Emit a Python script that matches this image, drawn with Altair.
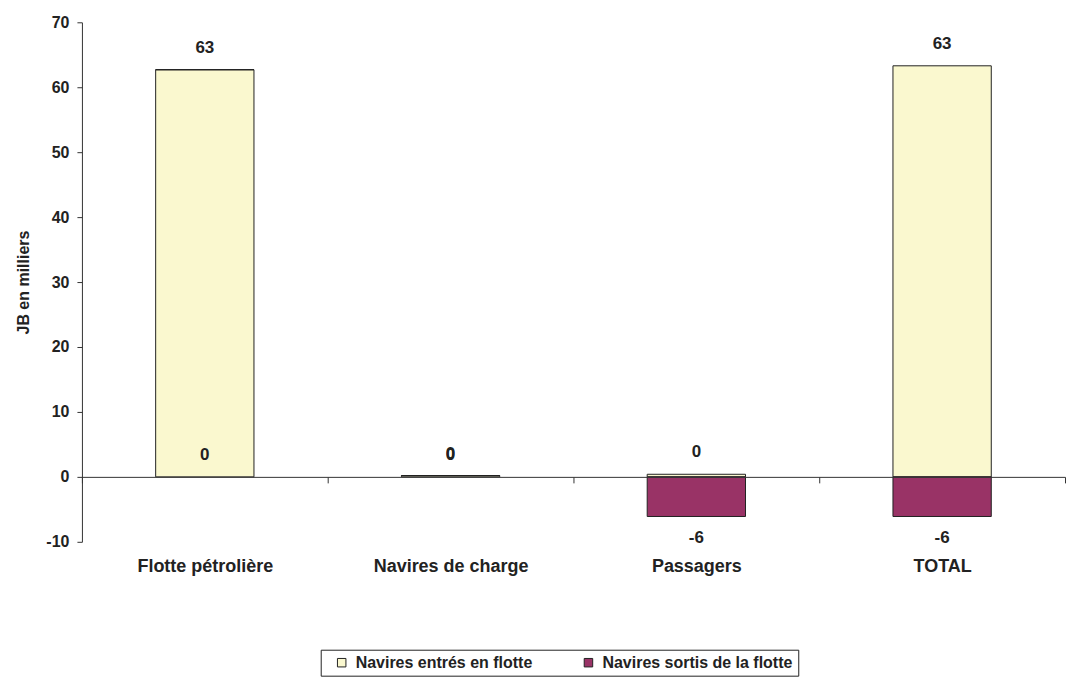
import altair as alt
import pandas as pd

categories = ["Flotte pétrolière", "Navires de charge", "Passagers", "TOTAL"]
series = ["Navires entrés en flotte", "Navires sortis de la flotte"]
entered = [62.7, 0.2, 0.4, 63.3]
exited = [0.0, 0.0, -6.1, -6.1]
colors = ["#FAF8CF", "#993366"]
y_ticks = [-10, 0, 10, 20, 30, 40, 50, 60, 70]

rows = []
for i, c in enumerate(categories):
    for k, (s, vals) in enumerate(zip(series, [entered, exited])):
        v = vals[i]
        rows.append({"cat": c, "series": s, "value": v,
                     "label": str(int(round(v))), "order": k})
df = pd.DataFrame(rows)

FONT = "Liberation Sans"
W, H = 984, 520
zero_offset = -H * (0 - (-10)) / (70 - (-10))

x_enc = alt.X(
    "cat:N", sort=categories,
    scale=alt.Scale(paddingInner=0, paddingOuter=0),
    axis=alt.Axis(title=None, labelAngle=0, offset=zero_offset, zindex=1,
                  domainColor="#333", tickColor="#333", tickSize=6,
                  tickBand="extent", labelPadding=75, labelFontSize=18,
                  labelFontWeight="bold", labelFont=FONT, labelColor="#222"),
)
y_scale = alt.Scale(domain=[-10, 70], nice=False, zero=False)
y_axis = alt.Axis(values=y_ticks, title="JB en milliers", grid=False,
                  labelExpr="'' + datum.value",
                  domainColor="#333", tickColor="#333", tickSize=5,
                  labelPadding=8, labelFontSize=16, labelFontWeight="bold",
                  labelFont=FONT, labelColor="#222", titleFont=FONT,
                  titleFontSize=16, titleFontWeight="bold", titleColor="#222",
                  titlePadding=14)

bars = alt.Chart(df).mark_bar(width={"band": 0.4}, stroke="#222", strokeWidth=1).encode(
    x=x_enc,
    y=alt.Y("value:Q", stack="zero", scale=y_scale, axis=y_axis),
    color=alt.Color("series:N", scale=alt.Scale(domain=series, range=colors),
                    legend=alt.Legend(orient="none", legendX=239, legendY=628,
                                      direction="horizontal", title=None,
                                      strokeColor="#222", fillColor="white",
                                      padding=5, symbolType="square", symbolSize=72,
                                      symbolStrokeColor="#222", symbolStrokeWidth=1,
                                      symbolOffset=8, labelOffset=6,
                                      labelFontSize=16, labelFontWeight="bold",
                                      labelFont=FONT, labelColor="#222",
                                      labelLimit=400, columnPadding=40)),
    order=alt.Order("order:Q", sort="ascending"),
)

pos_text = alt.Chart(df).transform_filter("datum.value >= 0").mark_text(
    dy=-22, fontSize=17, fontWeight="bold", font=FONT, color="#222"
).encode(
    x=alt.X("cat:N", sort=categories),
    y=alt.Y("value:Q", stack=None, scale=y_scale),
    text="label:N",
)
neg_text = alt.Chart(df).transform_filter("datum.value < 0").mark_text(
    dy=22, fontSize=17, fontWeight="bold", font=FONT, color="#222"
).encode(
    x=alt.X("cat:N", sort=categories),
    y=alt.Y("value:Q", stack=None, scale=y_scale),
    text="label:N",
)

chart = alt.layer(bars, pos_text, neg_text).properties(
    width=W, height=H,
    padding={"left": 7, "top": 6, "right": 0, "bottom": 0},
).configure_view(stroke=None)

chart.save("out.html", embed_options={"renderer": "svg", "actions": False})
